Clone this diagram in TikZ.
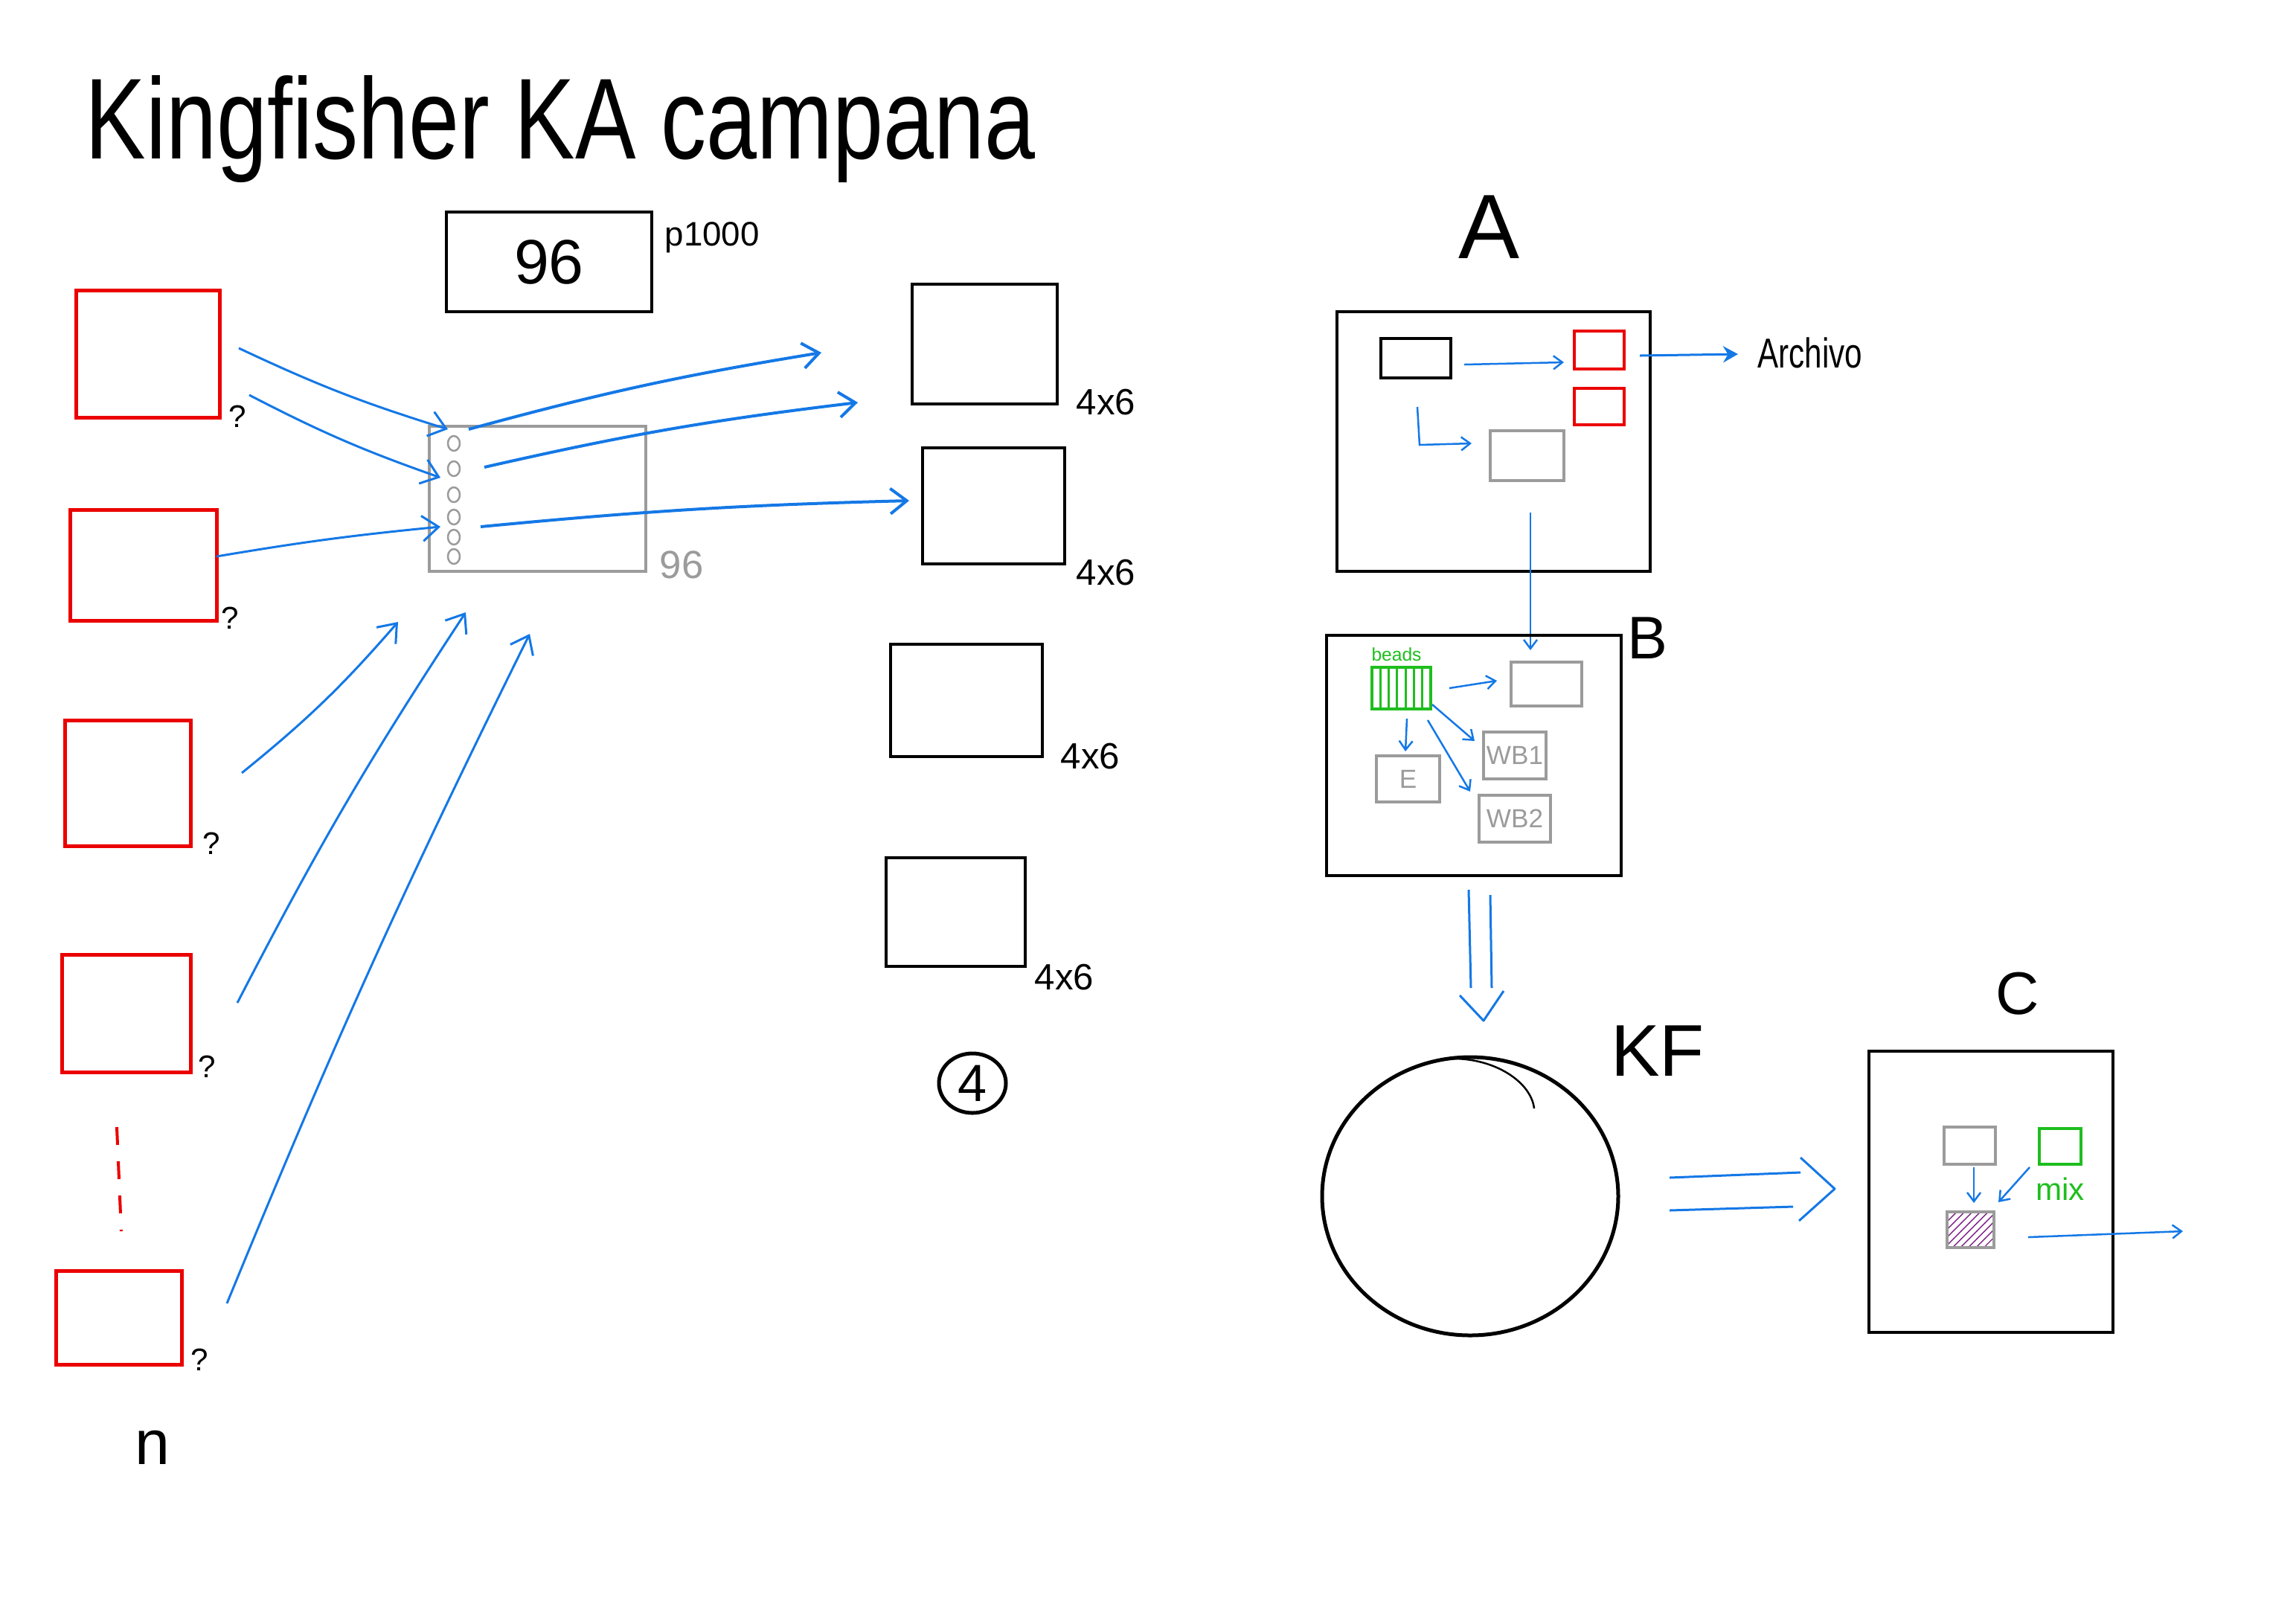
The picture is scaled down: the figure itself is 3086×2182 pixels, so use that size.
\documentclass[tikz,border=0pt]{standalone}
\usepackage{fontspec}
\usepackage{graphicx}
\setmainfont{Liberation Sans}
\usetikzlibrary{arrows.meta,fit,patterns,shapes.geometric}
\definecolor{skblue}{RGB}{20,120,230}
\definecolor{skred}{RGB}{235,0,0}
\definecolor{skgreen}{RGB}{30,190,30}
\definecolor{skgray}{RGB}{155,155,155}
\definecolor{skpurple}{RGB}{125,35,135}
\begin{document}
\begin{tikzpicture}[x=0.1mm,y=-0.1mm,
  redbox/.style={draw=skred,line width=0.5mm,inner sep=0,rectangle},
  blkbox/.style={draw=black,line width=0.45mm,inner sep=0,rectangle},
  gbox/.style={draw=skgray,line width=0.4mm,inner sep=0,rectangle},
  grbox/.style={draw=skgreen,line width=0.4mm,inner sep=0,rectangle},
  arr/.style={draw=skblue,line width=0.3mm,-{Straight Barb[length=2.2mm,width=3.4mm]}},
  sarr/.style={draw=skblue,line width=0.25mm,-{Straight Barb[length=1.2mm,width=1.8mm]}},
  dbl/.style={draw=skblue,line width=0.3mm},
  lab/.style={inner sep=0,anchor=base west},
  ctr/.style={inner sep=0,anchor=center}]
\useasboundingbox (0,0) rectangle (3086,2182);

% ---------- title ----------
\node[lab,font=\fontsize{44}{50}\selectfont] (title) at (114,213) {\scalebox{0.79}[1]{Kingfisher KA campana}};

% ---------- 96 box ----------
\node[blkbox,fit={(600,285)(876,419)}] (p96) {};
\node[ctr,font=\fontsize{24}{28}\selectfont] (t96) at (p96.center) {96};
\node[lab,font=\fontsize{13}{15}\selectfont] (p1000) at (893,330) {p1000};

% ---------- red source boxes ----------
\node[redbox,fit={(102,390)(295,561)}] (r1) {};
\node[redbox,fit={(94,685)(291,834)}] (r2) {};
\node[redbox,fit={(87,968)(256,1137)}] (r3) {};
\node[redbox,fit={(83,1283)(256,1441)}] (r4) {};
\node[redbox,fit={(75,1708)(244,1834)}] (r5) {};
\node[lab,font=\fontsize{12}{14}\selectfont] (q1) at (307,574) {?};
\node[lab,font=\fontsize{12}{14}\selectfont] (q2) at (297,845) {?};
\node[lab,font=\fontsize{12}{14}\selectfont] (q3) at (272,1148) {?};
\node[lab,font=\fontsize{12}{14}\selectfont] (q4) at (266,1448) {?};
\node[lab,font=\fontsize{12}{14}\selectfont] (q5) at (256,1842) {?};
\coordinate (dA) at (157,1515);
\coordinate (dB) at (163,1655);
\draw[skred,line width=0.4mm,dash pattern=on 2.4mm off 2.2mm] (dA) -- (dB);
\node[lab,font=\fontsize{24}{28}\selectfont] (nn) at (181,1968) {n};

% ---------- 96-well plate ----------
\node[gbox,fit={(577,573)(868,768)}] (plate) {};
\foreach \yy in {596,630,665,695,722,748}
  \draw[skgray,line width=0.25mm] (610,\yy) ellipse (8 and 10);
\node[lab,text=skgray,font=\fontsize{15}{17}\selectfont] (g96) at (886,777) {96};

% arrows into the plate
\coordinate (i1s) at (321,468);  \coordinate (i1e) at (602,577);
\coordinate (i2s) at (335,531);  \coordinate (i2e) at (592,642);
\coordinate (i3s) at (291,748);  \coordinate (i3e) at (592,708);
\coordinate (i4s) at (325,1039); \coordinate (i4e) at (535,836);
\coordinate (i5s) at (319,1348); \coordinate (i5e) at (626,823);
\coordinate (i6s) at (305,1752); \coordinate (i6e) at (712,852);
\draw[arr] (i1s) to[bend right=4] (i1e);
\draw[arr] (i2s) to[bend right=4] (i2e);
\draw[arr] (i3s) to[bend left=2] (i3e);
\draw[arr] (i4s) to[bend right=5] (i4e);
\draw[arr] (i5s) to[bend left=3] (i5e);
\draw[arr] (i6s) to[bend left=2] (i6e);

% arrows out of the plate
\coordinate (o1s) at (630,577);  \coordinate (o1e) at (1104,474);
\coordinate (o2s) at (651,628);  \coordinate (o2e) at (1153,541);
\coordinate (o3s) at (646,708);  \coordinate (o3e) at (1222,673);
\draw[arr,line width=0.4mm] (o1s) to[bend left=3] (o1e);
\draw[arr,line width=0.4mm] (o2s) to[bend left=3] (o2e);
\draw[arr,line width=0.4mm] (o3s) to[bend left=2] (o3e);

% ---------- 4x6 plates ----------
\node[blkbox,fit={(1226,382)(1421,543)}] (k1) {};
\node[blkbox,fit={(1240,602)(1431,758)}] (k2) {};
\node[blkbox,fit={(1197,866)(1401,1017)}] (k3) {};
\node[blkbox,fit={(1191,1153)(1378,1299)}] (k4) {};
\node[lab,font=\fontsize{14}{16}\selectfont] (l1) at (1446,557) {4x6};
\node[lab,font=\fontsize{14}{16}\selectfont] (l2) at (1446,786) {4x6};
\node[lab,font=\fontsize{14}{16}\selectfont] (l3) at (1425,1033) {4x6};
\node[lab,font=\fontsize{14}{16}\selectfont] (l4) at (1390,1330) {4x6};
\node[draw,ellipse,line width=0.5mm,inner sep=0,minimum width=9mm,minimum height=8mm,
      font=\fontsize{20}{22}\selectfont] (c4) at (1307,1456) {4};

% ---------- A ----------
\node[ctr,font=\fontsize{35}{40}\selectfont] (tA) at (2001,305) {A};
\node[blkbox,fit={(1797,419)(2218,768)}] (boxA) {};
\node[blkbox,fit={(1856,455)(1950,508)}] (a1) {};
\node[redbox,line width=0.4mm,fit={(2116,445)(2183,496)}] (ar1) {};
\node[redbox,line width=0.4mm,fit={(2116,522)(2183,571)}] (ar2) {};
\node[gbox,fit={(2003,579)(2102,646)}] (ag) {};
\coordinate (a1o) at (1968,490); \coordinate (ar1i) at (2102,487);
\draw[sarr] (a1o) -- (ar1i);
\coordinate (L1) at (1905,547); \coordinate (L2) at (1908,598); \coordinate (L3) at (1978,596);
\draw[sarr] (L1) -- (L2) -- (L3);
\coordinate (arcS) at (2204,478); \coordinate (arcE) at (2336,476);
\draw[draw=skblue,line width=0.3mm,-{Stealth[length=2mm,width=2.2mm]}] (arcS) -- (arcE);
\node[lab,font=\fontsize{16}{18}\selectfont] (archivo) at (2362,494) {\scalebox{0.75}[1]{Archivo}};
\coordinate (abS) at (2057,689); \coordinate (abE) at (2057,874);
\draw[sarr] (abS) -- (abE);

% ---------- B ----------
\node[ctr,font=\fontsize{23}{26}\selectfont] (tB) at (2214,858) {B};
\node[blkbox,fit={(1783,854)(2179,1177)}] (boxB) {};
\node[grbox,line width=0.45mm,fit={(1844,897)(1923,953)}] (beads) {};
\foreach \k in {1,...,6}
  \draw[skgreen,line width=0.3mm] (1844+\k*11.3,897) -- (1844+\k*11.3,953);
\node[ctr,text=skgreen,font=\fontsize{7}{8}\selectfont] (tbeads) at (1877,880) {beads};
\node[gbox,fit={(2031,890)(2126,949)}] (bt) {};
\node[gbox,fit={(1994,984)(2078,1047)}] (wb1) {};
\node[gbox,fit={(1988,1069)(2084,1132)}] (wb2) {};
\node[gbox,fit={(1850,1016)(1935,1078)}] (ebox) {};
\node[ctr,text=skgray,font=\fontsize{10}{12}\selectfont] (twb1) at (wb1.center) {WB1};
\node[ctr,text=skgray,font=\fontsize{10}{12}\selectfont] (twb2) at (wb2.center) {WB2};
\node[ctr,text=skgray,font=\fontsize{10}{12}\selectfont] (te) at (ebox.center) {E};
\coordinate (b1s) at (1948,925); \coordinate (b1e) at (2012,915);
\coordinate (b2s) at (1891,966); \coordinate (b2e) at (1889,1010);
\coordinate (b3s) at (1925,947); \coordinate (b3e) at (1982,996);
\coordinate (b4s) at (1919,968); \coordinate (b4e) at (1976,1064);
\draw[sarr] (b1s) -- (b1e);
\draw[sarr] (b2s) -- (b2e);
\draw[sarr] (b3s) -- (b3e);
\draw[sarr] (b4s) -- (b4e);

% B => KF
\coordinate (d1a) at (1974,1196); \coordinate (d1b) at (1977,1328);
\coordinate (d2a) at (2003,1203); \coordinate (d2b) at (2005,1328);
\coordinate (v1) at (1962,1338); \coordinate (vt) at (1994,1372); \coordinate (v2) at (2021,1332);
\draw[dbl] (d1a) -- (d1b);
\draw[dbl] (d2a) -- (d2b);
\draw[dbl,line join=round] (v1) -- (vt) -- (v2);

% ---------- KF ----------
\node[draw,ellipse,line width=0.5mm,inner sep=0,minimum width=39.8mm,minimum height=37.4mm] (kf) at (1976,1608) {};
\coordinate (kfa) at (1950,1423); \coordinate (kfb) at (2062,1490);
\draw[line width=0.25mm] (kfa) .. controls (2010,1422) and (2058,1455) .. (kfb);
\node[ctr,font=\fontsize{28}{32}\selectfont] (tKF) at (2228,1413) {KF};

% KF => C
\coordinate (e1a) at (2244,1583); \coordinate (e1b) at (2420,1576);
\coordinate (e2a) at (2244,1627); \coordinate (e2b) at (2410,1622);
\coordinate (w1) at (2420,1556); \coordinate (wt) at (2466,1598); \coordinate (w2) at (2418,1641);
\draw[dbl] (e1a) -- (e1b);
\draw[dbl] (e2a) -- (e2b);
\draw[dbl,line join=round] (w1) -- (wt) -- (w2);

% ---------- C ----------
\node[ctr,font=\fontsize{23}{26}\selectfont] (tC) at (2712,1336) {C};
\node[blkbox,fit={(2512,1413)(2840,1791)}] (boxC) {};
\node[gbox,fit={(2613,1515)(2682,1565)}] (cg) {};
\node[grbox,fit={(2741,1517)(2797,1565)}] (cgr) {};
\node[ctr,text=skgreen,font=\fontsize{12}{14}\selectfont] (tmix) at (2769,1598) {mix};
\node[gbox,line width=0.45mm,pattern=north east lines,pattern color=skpurple,fit={(2617,1629)(2680,1677)}] (hatch) {};
\coordinate (c1s) at (2653,1569); \coordinate (c1e) at (2653,1617);
\coordinate (c2s) at (2728,1569); \coordinate (c2e) at (2686,1616);
\coordinate (c3s) at (2726,1663); \coordinate (c3e) at (2934,1655);
\draw[sarr] (c1s) -- (c1e);
\draw[sarr] (c2s) -- (c2e);
\draw[sarr] (c3s) -- (c3e);
\end{tikzpicture}
\end{document}
